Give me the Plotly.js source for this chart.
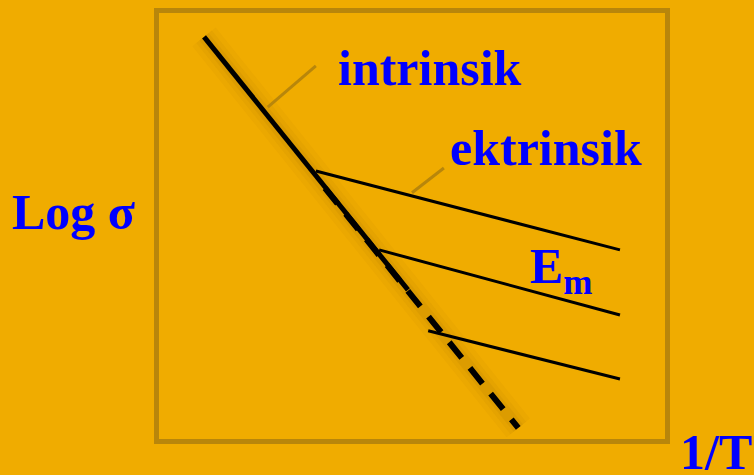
<!DOCTYPE html>
<html>
<head>
<meta charset="utf-8">
<script src="https://cdn.plot.ly/plotly-3.0.1.min.js"></script>
<style>
  html, body { margin: 0; padding: 0; background: #f0ac00; }
  #myDiv { width: 754px; height: 475px; }
</style>
</head>
<body>
<div id="myDiv"></div>
<script>
// schematic: log conductivity vs 1/T (arbitrary units, 0-10 on both axes)
var intrinsicX = [0.89, 4.92];
var intrinsicY = [9.44, 3.50];
var extrapX = [3.28, 7.10];
var extrapY = [5.89, 0.26];

var ext1X = [3.10, 9.11];
var ext1Y = [6.29, 4.44];
var ext2X = [4.35, 9.11];
var ext2Y = [4.44, 2.91];
var ext3X = [5.32, 9.11];
var ext3Y = [2.54, 1.41];

var leaderIntrX = [2.15, 3.10];
var leaderIntrY = [7.79, 8.76];
var leaderEktX = [5.00, 5.63];
var leaderEktY = [5.78, 6.36];

// labels, placed in paper fractions (some sit outside the frame)
var labelText = ["intrinsik", "ektrinsik", "Log σ", "E<sub>m</sub>", "1/T"];
var labelX = [0.536, 0.765, -0.168, 0.729, 1.176];
var labelY = [0.871, 0.683, 0.533, 0.397, -0.031];
var labelAnchor = ["center", "center", "center", "left", "right"];

var bg = "#f0ac00";
var gold = "#b8860b";

function seg(x, y, color, width, dash) {
  return {
    x: x, y: y, type: "scatter", mode: "lines",
    line: { color: color, width: width, dash: dash || "solid" },
    hoverinfo: "skip", showlegend: false,
  };
}

var shadowX = [intrinsicX[0], extrapX[1]];
var shadowY = [intrinsicY[0], extrapY[1]];

var data = [
  // soft shadow under the intrinsic line
  seg(shadowX, shadowY, "rgba(120,70,0,0.04)", 30),
  seg(shadowX, shadowY, "rgba(120,70,0,0.05)", 20),
  seg(shadowX, shadowY, "rgba(120,70,0,0.07)", 12),
  seg(leaderIntrX, leaderIntrY, gold, 3),
  seg(leaderEktX, leaderEktY, gold, 3),
  seg(ext1X, ext1Y, "black", 3),
  seg(ext2X, ext2Y, "black", 3),
  seg(ext3X, ext3Y, "black", 3),
  seg(intrinsicX, intrinsicY, "black", 5),
  seg(extrapX, extrapY, "black", 6, "20px,13px"),
];

var annotations = labelText.map(function (t, i) {
  return {
    x: labelX[i], y: labelY[i], xref: "paper", yref: "paper",
    text: t, showarrow: false,
    xanchor: labelAnchor[i], yanchor: "middle",
    font: { family: "Liberation Serif, serif", size: 50, color: "#0000ff", weight: "bold" },
  };
});

var axisStyle = {
  range: [0, 10],
  showgrid: false,
  zeroline: false,
  showticklabels: false,
  ticks: "",
  showline: true,
  mirror: true,
  linewidth: 5,
  linecolor: gold,
  fixedrange: true,
};

var layout = {
  width: 754,
  height: 475,
  margin: { l: 159, r: 89, t: 13, b: 36 },
  paper_bgcolor: bg,
  plot_bgcolor: bg,
  xaxis: axisStyle,
  yaxis: Object.assign({}, axisStyle),
  annotations: annotations,
  showlegend: false,
};

Plotly.newPlot("myDiv", data, layout, { displayModeBar: false, staticPlot: true });
</script>
</body>
</html>
